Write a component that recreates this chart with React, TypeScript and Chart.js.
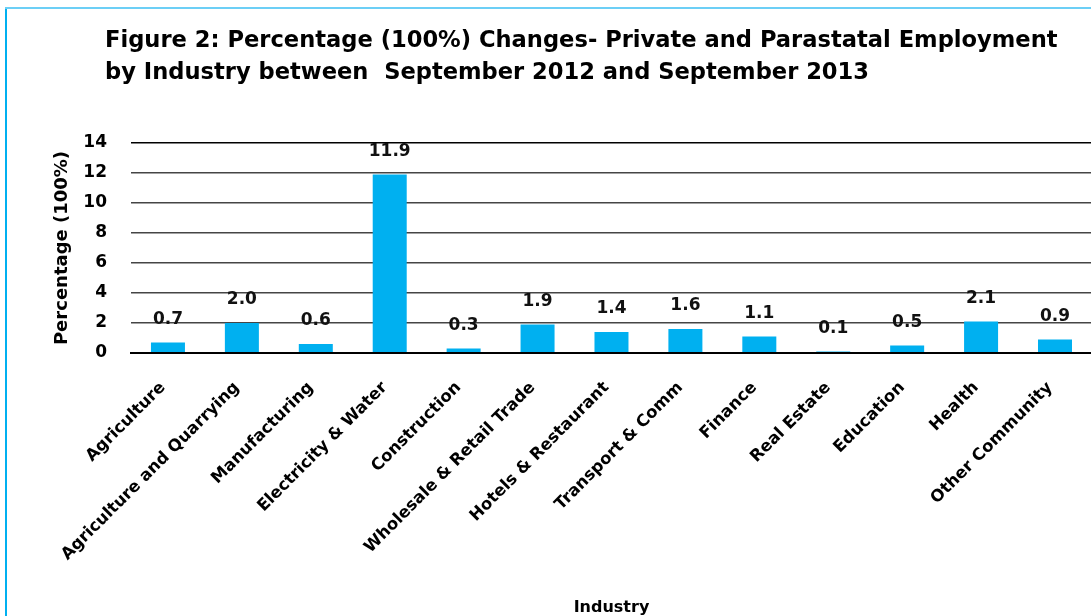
import React, { useEffect, useRef } from "react";
import { Chart, registerables } from "chart.js";

Chart.register(...registerables);

const TITLE_LINES = [
  "Figure 2: Percentage (100%) Changes- Private and Parastatal Employment",
  "by Industry between  September 2012 and September 2013",
];
const categories = [
  "Agriculture",
  "Agriculture and Quarrying",
  "Manufacturing",
  "Electricity & Water",
  "Construction",
  "Wholesale & Retail Trade",
  "Hotels & Restaurant",
  "Transport & Comm",
  "Finance",
  "Real Estate",
  "Education",
  "Health",
  "Other Community",
];
const values = [0.7, 2.0, 0.6, 11.9, 0.3, 1.9, 1.4, 1.6, 1.1, 0.1, 0.5, 2.1, 0.9];
const Y_MIN = 0;
const Y_MAX = 14;
const Y_STEP = 2;
const Y_TITLE = "Percentage (100%)";
const X_TITLE = "Industry";

const FONT = "'DejaVu Sans', sans-serif";
const BAR_COLOR = "#00b0f0";
const VIEW_W = 1091;
const CANVAS_W = 1094;
const CANVAS_H = 630;

const valueLabels = {
  id: "valueLabels",
  afterDatasetsDraw(chart: any) {
    const { ctx } = chart;
    const meta = chart.getDatasetMeta(0);
    ctx.save();
    ctx.font = `bold 17px ${FONT}`;
    ctx.fillStyle = "#111";
    ctx.textAlign = "center";
    ctx.textBaseline = "middle";
    meta.data.forEach((bar: any, i: number) => {
      ctx.fillText(values[i].toFixed(1), bar.x, bar.y - 23);
    });
    ctx.restore();
  },
};

export default function App() {
  const ref = useRef<HTMLCanvasElement | null>(null);

  useEffect(() => {
    document.documentElement.style.overflow = "hidden";
    const canvas = ref.current;
    if (!canvas) return;
    const chart = new Chart(canvas, {
      type: "bar",
      data: {
        labels: categories,
        datasets: [
          {
            data: values,
            backgroundColor: BAR_COLOR,
            borderWidth: 0,
            barPercentage: 0.46,
            categoryPercentage: 1,
          },
        ],
      },
      options: {
        animation: false,
        responsive: false,
        devicePixelRatio: 1,
        layout: { padding: { left: 52, top: 143, right: 0, bottom: 0 } },
        plugins: {
          legend: { display: false },
          tooltip: { enabled: false },
          title: { display: false },
        },
        scales: {
          x: {
            grid: { display: false, drawTicks: false },
            border: { display: true, color: "#000", width: 2 },
            ticks: {
              autoSkip: false,
              minRotation: 45,
              maxRotation: 45,
              padding: 25,
              labelOffset: -5,
              color: "#000",
              font: { family: FONT, weight: "bold", size: 16.5 },
            },
            title: {
              display: true,
              text: X_TITLE,
              color: "#000",
              font: { family: FONT, weight: "bold", size: 16 },
              padding: { top: 0, bottom: 13 },
            },
            afterFit(scale: any) {
              scale.height = CANVAS_H - 353;
            },
          },
          y: {
            min: Y_MIN,
            max: Y_MAX,
            grid: {
              drawTicks: false,
              color: (c: any) =>
                c.tick && (c.tick.value === Y_MAX || c.tick.value === 0) ? "#000" : "#454545",
              lineWidth: (c: any) => (c.tick && c.tick.value === 0 ? 2 : 1.4),
            },
            border: { display: false },
            ticks: {
              stepSize: Y_STEP,
              padding: 24,
              color: "#000",
              font: { family: FONT, weight: "bold", size: 17 },
            },
            title: {
              display: true,
              text: Y_TITLE,
              color: "#000",
              font: { family: FONT, weight: "bold", size: 18 },
              padding: 0,
            },
            afterFit(scale: any) {
              scale.width = 131 - 52;
            },
          },
        },
      },
      plugins: [valueLabels],
    });
    return () => chart.destroy();
  }, []);

  return (
    <div
      style={{
        position: "absolute",
        left: 0,
        top: 0,
        width: VIEW_W,
        height: 616,
        overflow: "hidden",
        background: "#fff",
      }}
    >
      <canvas
        ref={ref}
        width={CANVAS_W}
        height={CANVAS_H}
        style={{ position: "absolute", left: 0, top: 0, width: CANVAS_W, height: CANVAS_H }}
      />
      <div style={{ position: "absolute", left: 5, top: 7, width: 2, height: 620, background: "#00b0f0" }} />
      <div style={{ position: "absolute", left: 5, top: 7, width: 1100, height: 2, background: "#6ccff6" }} />
      <div
        style={{
          position: "absolute",
          left: 105,
          top: 23,
          fontFamily: FONT,
          fontWeight: "bold",
          fontSize: 22.6,
          lineHeight: "32px",
          color: "#000",
          whiteSpace: "pre",
        }}
      >
        {TITLE_LINES.map((t, i) => (
          <div key={i}>{t}</div>
        ))}
      </div>
    </div>
  );
}
